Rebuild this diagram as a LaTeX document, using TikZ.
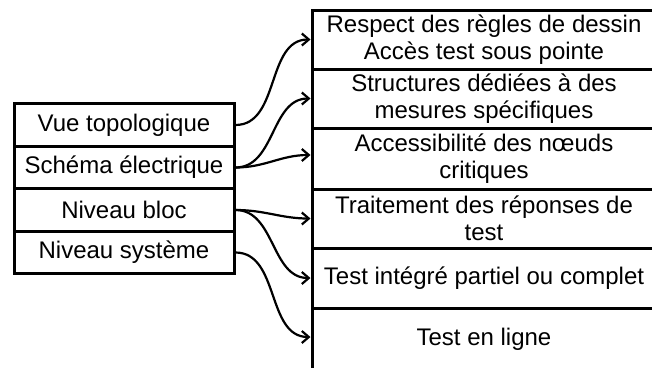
\documentclass[tikz,border=0pt]{standalone}
\usepackage{fontspec}
\setmainfont{Liberation Sans}
\usetikzlibrary{arrows.meta}
\begin{document}
\begin{tikzpicture}[x=1pt,y=-1pt,
  box/.style={draw, line width=3pt, inner sep=0pt, align=center,
    font=\fontsize{24}{27.5}\selectfont},
  lbox/.style={box, minimum width=220pt, minimum height=42.5pt},
  rbox/.style={box, minimum width=344pt},
  conn/.style={line width=2.2pt, -{Straight Barb[length=7pt,width=12pt]}}]
\useasboundingbox (0,0) rectangle (652,367);
\clip (0,0) rectangle (652,367);
% left column
\node[lbox] (l1) at (124,125) {Vue topologique};
\node[lbox] (l2) at (124,167.5) {Schéma électrique};
\node[lbox] (l3) at (124,210) {Niveau bloc};
\node[lbox] (l4) at (124,252.5) {Niveau système};
% right column
\node[rbox, minimum height=59pt] (r1) at (484,39.5) {Respect des règles de dessin\\Accès test sous pointe};
\node[rbox, minimum height=59pt] (r2) at (484,98.5) {Structures dédiées à des\\mesures spécifiques};
\node[rbox, minimum height=61pt] (r3) at (484,158.5) {Accessibilité des nœuds\\critiques};
\node[rbox, minimum height=59pt] (r4) at (484,218.5) {Traitement des réponses de\\test};
\node[rbox, minimum height=60pt] (r5) at (484,278) {Test intégré partiel ou complet};
\node[rbox, minimum height=62pt] (r6) at (484,339) {Test en ligne};
% connectors
\draw[conn] (l1.east) to[out=0,in=180] (r1.west);
\draw[conn] (l2.east) to[out=0,in=180] (r2.west);
\draw[conn] (l2.east) to[out=0,in=180] ([yshift=3.5pt]r3.west);
\draw[conn] (l3.east) to[out=0,in=180] (r4.west);
\draw[conn] (l3.east) to[out=0,in=180] (r5.west);
\draw[conn] (l4.east) to[out=0,in=180] ([yshift=2pt]r6.west);
\end{tikzpicture}
\end{document}
